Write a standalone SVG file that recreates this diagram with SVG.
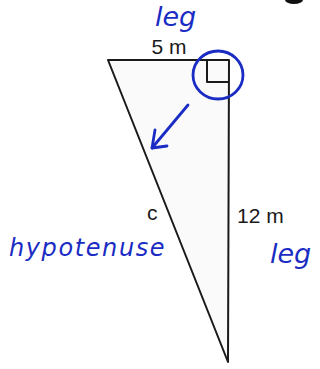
<svg xmlns="http://www.w3.org/2000/svg" width="320" height="369" viewBox="0 0 320 369">
<style>
.edge{stroke:#1a1a1a;stroke-width:2;fill:none;stroke-linejoin:round}
.lbl{font-family:"Liberation Sans",Arial,sans-serif;font-size:21px;fill:#1a1a1a}
.hand{font-family:"DejaVu Sans","Liberation Sans",sans-serif;font-style:italic;fill:#1a2cc4}
.ink{stroke:#1a2cc4;stroke-width:2.8;fill:none;stroke-linecap:round;stroke-linejoin:round}
</style>
<rect width="320" height="369" fill="#ffffff"/>
<ellipse cx="294" cy="0" rx="9" ry="4" fill="#111"/>
<g id="triangle">
<polygon points="108,60 229,60 228,362" fill="#fafafa" stroke="none"/>
<path class="edge" d="M108,60 L229,60 L228,362 Z"/>
<path class="edge" d="M207,60 L207,82 L229,82"/>
</g>
<g id="labels">
<text class="lbl" x="169" y="54" text-anchor="middle">5 m</text>
<text class="lbl" x="237" y="223">12 m</text>
<text class="lbl" x="147" y="220">c</text>
</g>
<g id="annotations">
<text class="hand" x="155" y="26" font-size="27">leg</text>
<text class="hand" x="9" y="256" font-size="24" letter-spacing="1.6">hypotenuse</text>
<text class="hand" x="270" y="263" font-size="27">leg</text>
<ellipse class="ink" cx="218" cy="75" rx="25" ry="24"/>
</g>
<g id="connectors">
<path class="ink" d="M188,105 L152,148"/>
<path class="ink" d="M155,130 L152,148 L167,146"/>
</g>
</svg>
